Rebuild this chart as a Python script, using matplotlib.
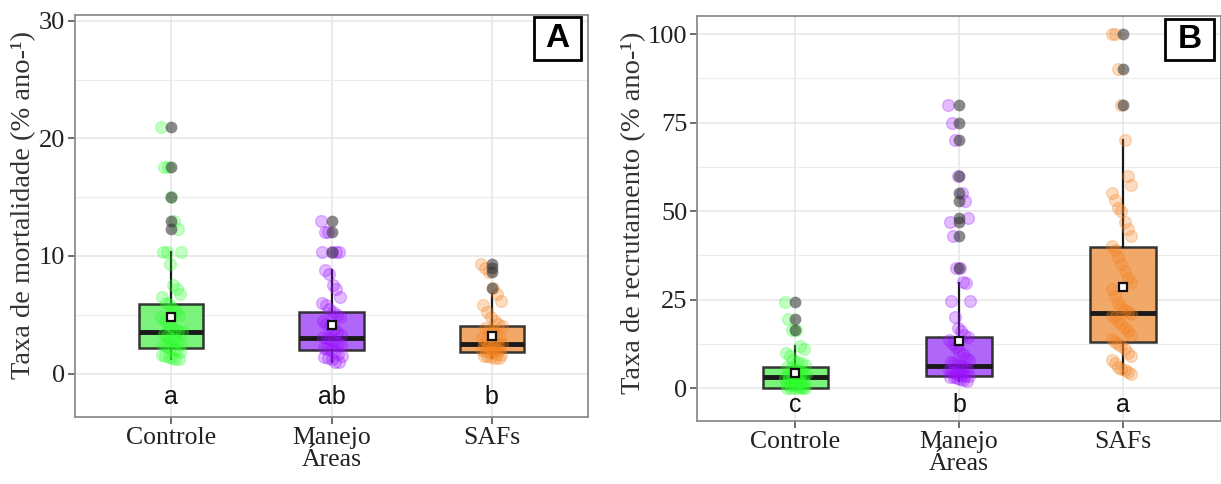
import numpy as np
import matplotlib
matplotlib.use("Agg")
import matplotlib.pyplot as plt
from matplotlib.patches import Rectangle
from matplotlib.ticker import MultipleLocator

# ---------------- data ----------------
categories = ["Controle", "Manejo\nÁreas", "SAFs"]
letters_A = ["a", "ab", "b"]
letters_B = ["c", "b", "a"]

mort_controle = [21.0, 17.6, 17.6, 15.0, 13.0, 12.3, 10.3, 10.3, 10.3, 9.3, 7.5, 7.2, 6.8, 6.5,
                 6.0, 5.9, 5.6, 5.3, 5.0, 4.8, 4.5, 4.2, 4.0, 3.8, 3.6, 3.5, 3.4, 3.2, 3.0, 2.9,
                 2.7, 2.5, 2.4, 2.3, 2.2, 2.1, 2.0, 1.8, 1.6, 1.5, 1.4, 1.3, 1.2, 1.2]
mort_manejo = [13.0, 12.0, 12.0, 10.3, 10.3, 10.3, 10.3, 8.8, 8.5, 7.5, 7.2, 6.5, 6.0, 5.8, 5.5,
               5.2, 5.0, 4.8, 4.5, 4.2, 4.0, 3.8, 3.5, 3.3, 3.1, 3.0, 2.9, 2.8, 2.6, 2.4, 2.2,
               2.1, 2.0, 1.9, 1.7, 1.5, 1.4, 1.3, 1.2, 1.0, 1.0]
mort_safs = [9.3, 9.0, 8.6, 7.3, 6.8, 6.2, 5.8, 5.2, 4.8, 4.5, 4.2, 4.0, 3.9, 3.7, 3.5, 3.3, 3.1,
             3.0, 2.8, 2.7, 2.6, 2.5, 2.5, 2.4, 2.3, 2.2, 2.1, 2.0, 2.0, 1.9, 1.8, 1.8, 1.7, 1.6,
             1.5, 1.5, 1.4, 1.3, 1.3]

rec_controle = [24.3, 19.5, 16.4, 16.4, 12.0, 11.0, 10.0, 9.0, 8.0, 7.5, 7.0, 6.5, 6.0, 5.8, 5.5,
                5.0, 4.5, 4.0, 3.8, 3.5, 3.2, 3.0, 3.0, 2.8, 2.5, 2.2, 2.0, 1.8, 1.5, 1.2, 1.0,
                0.8, 0.5, 0.3, 0.0, 0.0, 0.0, 0.0, 0.0, 0.0]
rec_manejo = [80, 75, 70, 60, 55, 52.8, 48, 47, 43, 33.9, 33.9, 30, 29.7, 24.5, 24.5, 20, 17, 16,
              15, 14.4, 13.5, 12.5, 11.5, 10.5, 9.5, 8.5, 8, 7.5, 7, 6.5, 6.2, 6, 5.5, 5, 4.5,
              4.2, 4, 3.8, 3.5, 3.4, 3.2, 3, 2.8, 2.5, 2.3, 2.0]
rec_safs = [100, 100, 90, 80, 70, 60, 57.5, 55, 53, 51, 50, 47, 45, 43, 40, 39, 37, 35, 33, 31,
            30, 28, 26, 24, 23, 22, 21.5, 21, 20.5, 20, 19, 18, 17, 16, 15, 14, 13, 12.5, 12, 11,
            10, 9, 8, 7, 6, 5.5, 5, 4.5, 4]

# box statistics: q1, median, q3, lower whisker, upper whisker, mean
mort_q1 = [2.2, 2.0, 1.8]
mort_med = [3.5, 3.0, 2.5]
mort_q3 = [5.9, 5.2, 4.0]
mort_wlo = [1.2, 1.0, 1.3]
mort_whi = [10.3, 8.8, 6.8]
mort_mean = [4.8, 4.1, 3.2]
mort_out = [[21.0, 17.6, 15.0, 13.0, 12.3], [13.0, 12.0, 10.3], [9.3, 9.0, 8.6, 7.3]]

rec_q1 = [0.0, 3.4, 13.0]
rec_med = [3.1, 6.2, 21.2]
rec_q3 = [5.9, 14.4, 39.8]
rec_wlo = [0.0, 2.0, 4.0]
rec_whi = [12.0, 29.7, 70.0]
rec_mean = [4.2, 13.3, 28.5]
rec_out = [[24.3, 19.5, 16.4], [80, 75, 70, 60, 55, 52.8, 48, 47, 43, 33.9], [100, 90, 80]]

# ---------------- style ----------------
box_fill = ["#6cf26c", "#a855f7", "#f0a05a"]
pt_col = ["#2cff2c", "#9b10ff", "#f58220"]
SERIF = "Liberation Serif"
SANS = "Liberation Sans"

fig = plt.figure(figsize=(12.21, 4.84), dpi=100)
axA = fig.add_axes([75 / 1221, 67 / 484, 513 / 1221, 402 / 484])
axB = fig.add_axes([697 / 1221, 63 / 484, 524 / 1221, 405 / 484])


def jitter_offsets(n, width=0.065):
    base = np.linspace(-width, width, n)
    order = [(i * 7) % n for i in range(n)]
    return base[order]


def draw_panel(ax, groups, q1, med, q3, wlo, whi, mean, outs, letters, letter_y,
               ylim, major, minor, ylabel, label_xy, tag, tag_rect):
    for i in range(3):
        st = dict(q1=q1[i], med=med[i], q3=q3[i], whislo=wlo[i], whishi=whi[i],
                  fliers=[], label="")
        ax.bxp([st], positions=[i + 1], widths=0.4, patch_artist=True,
               showfliers=False, showcaps=False, manage_ticks=False,
               boxprops=dict(facecolor=box_fill[i], edgecolor="#222222", lw=1.8, alpha=0.9),
               medianprops=dict(color="#1a1a1a", lw=3.5),
               whiskerprops=dict(color="#1a1a1a", lw=1.6), zorder=2)

    for i, vals in enumerate(groups):
        xs = (i + 1) + jitter_offsets(len(vals))
        ax.scatter(xs, vals, s=72, facecolor=pt_col[i], edgecolor=pt_col[i], alpha=0.28,
                   lw=1.0, zorder=3)
        ax.scatter([i + 1] * len(outs[i]), outs[i], s=72, color="#3a3a3a", alpha=0.6,
                   lw=0, zorder=4)
        ax.plot([i + 1], [mean[i]], marker="s", ms=6, mfc="white", mec="#111111",
                mew=1.6, zorder=5, ls="none")
        ax.text(i + 1, letter_y, letters[i], ha="center", va="center", fontsize=18,
                family=SANS, color="#111111", zorder=6)

    ax.set_xlim(0.4, 3.6)
    ax.set_ylim(*ylim)
    ax.yaxis.set_major_locator(MultipleLocator(major))
    ax.yaxis.set_minor_locator(MultipleLocator(minor))
    ax.set_xticks([1, 2, 3])
    ax.set_xticklabels(categories, family=SERIF, fontsize=18.5, color="#222222",
                       linespacing=1.0)
    ax.grid(True, which="major", color="#e6e6e6", lw=1.1, zorder=0)
    ax.grid(True, which="minor", axis="y", color="#ececec", lw=0.8, zorder=0)
    ax.set_axisbelow(True)
    for s in ax.spines.values():
        s.set_color("#8c8c8c")
        s.set_linewidth(1.3)

    ax.tick_params(axis="y", labelsize=19, labelcolor="#222222", color="#555555",
                   length=5, width=1.2, pad=2)
    ax.tick_params(axis="x", color="#555555", length=5, width=1.2, pad=2)
    ax.tick_params(which="minor", length=0)
    for lab in ax.get_yticklabels():
        lab.set_family(SERIF)
    ax.set_ylabel(ylabel, family=SERIF, fontsize=20.5, color="#333333")
    ax.yaxis.set_label_coords(*label_xy)

    x0, y0, w, h = tag_rect
    ax.add_patch(Rectangle((x0, y0), w, h, transform=ax.transAxes, facecolor="white",
                           edgecolor="black", lw=2, zorder=10, clip_on=False))
    ax.text(x0 + w / 2, y0 + h / 2, tag, transform=ax.transAxes, ha="center", va="center",
            fontsize=24, fontweight="bold", family=SANS, zorder=11)


draw_panel(axA, [mort_controle, mort_manejo, mort_safs], mort_q1, mort_med, mort_q3,
           mort_wlo, mort_whi, mort_mean, mort_out, letters_A, -2.0,
           (-3.7, 30.5), 10, 5, "Taxa de mortalidade (% ano-¹)", (-0.076, 0.527), "A",
           (0.895, 0.888, 0.092, 0.107))
draw_panel(axB, [rec_controle, rec_manejo, rec_safs], rec_q1, rec_med, rec_q3,
           rec_wlo, rec_whi, rec_mean, rec_out, letters_B, -4.8,
           (-9.3, 105.1), 25, 12.5, "Taxa de recrutamento (% ano-¹)", (-0.098, 0.513), "B",
           (0.893, 0.891, 0.094, 0.101))

fig.savefig("out.png", dpi=100)
